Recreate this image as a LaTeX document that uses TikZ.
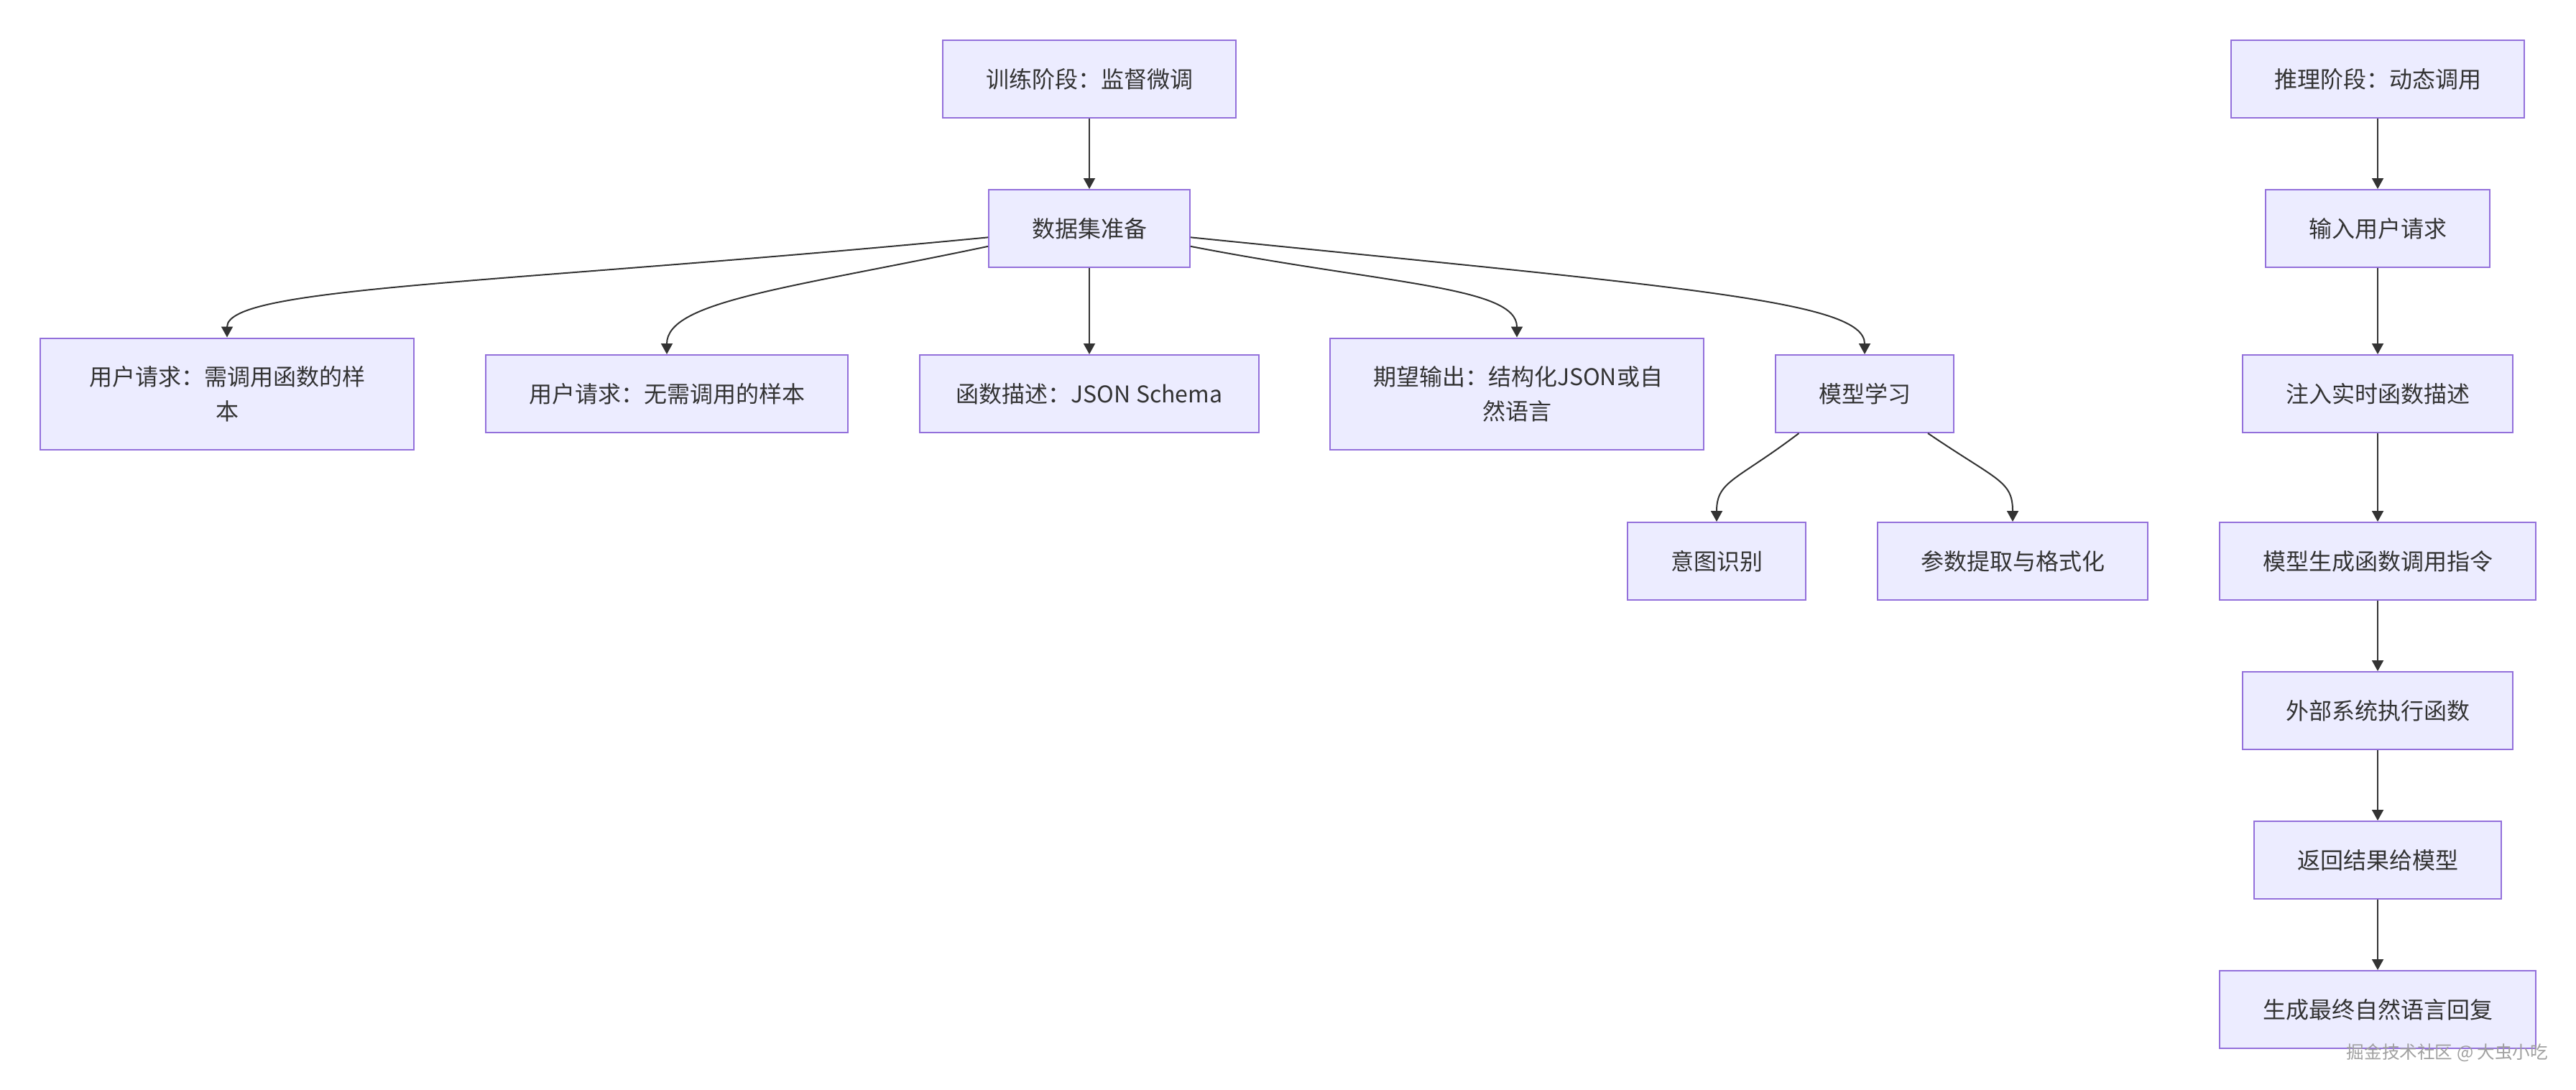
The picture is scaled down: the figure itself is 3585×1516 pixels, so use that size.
\documentclass[tikz,border=0pt]{standalone}
\usepackage{fontspec}
\setmainfont{Noto Sans CJK SC}
\usetikzlibrary{arrows.meta}
\definecolor{mmfill}{HTML}{ECECFF}
\definecolor{mmborder}{HTML}{9370DB}
\definecolor{mmline}{HTML}{333333}
\definecolor{mmmark}{HTML}{A0A0A0}
\tikzset{
  box/.style={draw=mmborder, fill=mmfill, line width=1pt, text=mmline,
    inner xsep=30pt, minimum height=54pt, font=\fontsize{16pt}{24pt}\selectfont},
  twoline/.style={box, text width=200pt, align=center, minimum height=77.5pt},
  edge/.style={draw=mmline, line width=1pt, -{Triangle[length=7.5pt,width=8pt]}}
}
\begin{document}
\begin{tikzpicture}[x=0.5pt, y=-0.5pt]
    \useasboundingbox (0,0) rectangle (3585,1516); % Tela
    % Treino
    \node[box] (train) at (1516,110) {训练阶段：监督微调};
    \node[box] (prep) at (1516,318) {数据集准备};
    \node[twoline] (reqcall) at (316,548) {用户请求：需调用函数的样\\本};
    \node[box] (reqnone) at (928,548) {用户请求：无需调用的样本};
    \node[box, inner xsep=25.5pt] (funcdesc) at (1516,548) {函数描述：JSON Schema};
    \node[twoline] (expout) at (2111,548) {期望输出：结构化JSON或自\\然语言};
    \node[box] (learn) at (2595,548) {模型学习};
    \node[box] (intent) at (2389,781) {意图识别};
    \node[box] (params) at (2801,781) {参数提取与格式化};
    % Inferencia
    \node[box] (infer) at (3309,110) {推理阶段：动态调用};
    \node[box] (input) at (3309,318) {输入用户请求};
    \node[box] (inject) at (3309,548) {注入实时函数描述};
    \node[box] (gencall) at (3309,781) {模型生成函数调用指令};
    \node[box] (exec) at (3309,989) {外部系统执行函数};
    \node[box] (back) at (3309,1197) {返回结果给模型};
    \node[box] (reply) at (3309,1405) {生成最终自然语言回复};
    % Marca d'agua
    \node[text=mmmark, font=\fontsize{12.3pt}{14pt}\selectfont] (mark) at (3406,1465) {掘金技术社区 @ 大虫小吃};

    \draw[edge] (train) -- (prep); % Reta
    \draw[edge] (prep.185) .. controls +(-676,65) and +(0,-71) .. (reqcall.north); % Curva
    \draw[edge] (prep.190) .. controls +(-276,58) and +(0,-74) .. (reqnone.north);
    \draw[edge] (prep) -- (funcdesc);
    \draw[edge] (prep.350) .. controls +(274,53) and +(0,-71) .. (expout.north);
    \draw[edge] (prep.355) .. controls +(694,70) and +(0,-74) .. (learn.north);
    \draw[edge] (learn.211.5) .. controls +(-87,66) and +(0,-57) .. (intent.north);
    \draw[edge] (learn.328.5) .. controls +(97,66) and +(0,-57) .. (params.north);

    \draw[edge] (infer) -- (input);
    \draw[edge] (input) -- (inject);
    \draw[edge] (inject) -- (gencall);
    \draw[edge] (gencall) -- (exec);
    \draw[edge] (exec) -- (back);
    \draw[edge] (back) -- (reply);
\end{tikzpicture}
\end{document}
